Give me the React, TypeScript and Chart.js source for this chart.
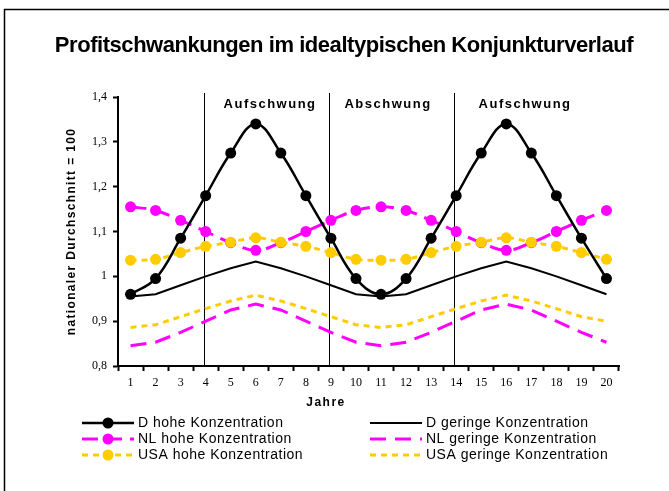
import { useEffect, useRef } from 'react';
import { Chart, registerables } from 'chart.js';

Chart.register(...registerables);

const W = 669;
const H = 491;

const titleText = 'Profitschwankungen im idealtypischen Konjunkturverlauf';
const xTitle = 'Jahre';
const yTitle = 'nationaler Durchschnitt = 100';

const years = ['1', '2', '3', '4', '5', '6', '7', '8', '9', '10', '11', '12', '13', '14', '15', '16', '17', '18', '19', '20'];

const dHigh = [0.96, 0.995, 1.085, 1.18, 1.275, 1.34, 1.275, 1.18, 1.085, 0.995, 0.96, 0.995, 1.085, 1.18, 1.275, 1.34, 1.275, 1.18, 1.085, 0.995];
const dLow = [0.955, 0.96, 0.98, 1.0, 1.018, 1.033, 1.018, 1.0, 0.98, 0.96, 0.955, 0.96, 0.98, 1.0, 1.018, 1.033, 1.018, 1.0, 0.98, 0.96];
const nlHigh = [1.155, 1.147, 1.125, 1.1, 1.075, 1.058, 1.075, 1.1, 1.125, 1.147, 1.155, 1.147, 1.125, 1.1, 1.075, 1.058, 1.075, 1.1, 1.125, 1.147];
const nlLow = [0.845, 0.853, 0.875, 0.9, 0.925, 0.938, 0.925, 0.9, 0.875, 0.853, 0.845, 0.853, 0.875, 0.9, 0.925, 0.938, 0.925, 0.9, 0.875, 0.853];
const usaHigh = [1.036, 1.038, 1.053, 1.067, 1.076, 1.086, 1.076, 1.067, 1.053, 1.038, 1.036, 1.038, 1.053, 1.067, 1.076, 1.086, 1.076, 1.067, 1.053, 1.038];
const usaLow = [0.886, 0.892, 0.91, 0.928, 0.945, 0.958, 0.945, 0.928, 0.91, 0.892, 0.886, 0.892, 0.91, 0.928, 0.945, 0.958, 0.945, 0.928, 0.91, 0.9];

// phase boundaries (year indices) and phase labels
const phaseBoundaries = ['4', '9', '14'];
const phaseLabels = ['Aufschwung', 'Abschwung', 'Aufschwung'];
const phaseLabelYears = [6.57, 11.28, 16.75];

const yTicks = [0.8, 0.9, 1.0, 1.1, 1.2, 1.3, 1.4];

const BLACK = '#000000';
const MAGENTA = '#FF00FF';
const ORANGE = '#FFCC00';

const SANS = '"Liberation Sans", Arial, sans-serif';
const SERIF = '"Liberation Serif", "Times New Roman", serif';

type Item = { label: string; color: string; dash: number[]; width: number; marker: boolean };

const legendLeft: Item[] = [
  { label: 'D hohe Konzentration', color: BLACK, dash: [], width: 2.5, marker: true },
  { label: 'NL hohe Konzentration', color: MAGENTA, dash: [16, 8], width: 3, marker: true },
  { label: 'USA hohe Konzentration', color: ORANGE, dash: [6, 5], width: 3, marker: true },
];
const legendRight: Item[] = [
  { label: 'D geringe Konzentration', color: BLACK, dash: [], width: 2, marker: false },
  { label: 'NL geringe Konzentration', color: MAGENTA, dash: [16, 9], width: 3, marker: false },
  { label: 'USA geringe Konzentration', color: ORANGE, dash: [6, 5], width: 3, marker: false },
];

const decor = {
  id: 'decor',
  beforeDraw(chart: any) {
    const ctx = chart.ctx as CanvasRenderingContext2D;
    ctx.save();
    ctx.fillStyle = '#fff';
    ctx.fillRect(0, 0, W, H);
    // frame
    ctx.strokeStyle = '#000';
    ctx.lineWidth = 1.5;
    ctx.beginPath();
    ctx.moveTo(4.5, H);
    ctx.lineTo(4.5, 9.5);
    ctx.lineTo(W, 9.5);
    ctx.stroke();
    ctx.restore();
  },
  beforeDatasetsDraw(chart: any) {
    const ctx = chart.ctx as CanvasRenderingContext2D;
    const xs = chart.scales.x;
    const area = chart.chartArea;
    ctx.save();
    ctx.strokeStyle = '#000';
    ctx.lineWidth = 1;
    phaseBoundaries.forEach((b) => {
      const x = Math.round(xs.getPixelForValue(years.indexOf(b) - 0.08)) + 0.5;
      ctx.beginPath();
      ctx.moveTo(x, area.top - 4);
      ctx.lineTo(x, area.bottom);
      ctx.stroke();
    });
    ctx.restore();
  },
  afterDraw(chart: any) {
    const ctx = chart.ctx as CanvasRenderingContext2D;
    const xs = chart.scales.x;
    const area = chart.chartArea;
    ctx.save();
    ctx.fillStyle = '#000';
    // title
    ctx.font = `bold 22px ${SANS}`;
    (ctx as any).letterSpacing = '-0.45px';
    ctx.textAlign = 'center';
    ctx.textBaseline = 'alphabetic';
    ctx.fillText(titleText, 344, 51.5);
    ctx.textBaseline = 'middle';
    // phase labels
    ctx.font = `bold 13px ${SANS}`;
    (ctx as any).letterSpacing = '1.5px';
    phaseLabels.forEach((t, i) => {
      const x = xs.getPixelForValue(phaseLabelYears[i] - 1);
      ctx.fillText(t, x, area.top + 7);
    });
    // x title
    ctx.font = `bold 12px ${SANS}`;
    (ctx as any).letterSpacing = '1.5px';
    ctx.fillText(xTitle, 326, 403);
    // y title
    (ctx as any).letterSpacing = '1.35px';
    ctx.save();
    ctx.translate(72, (area.top + area.bottom) / 2);
    ctx.rotate(-Math.PI / 2);
    ctx.fillText(yTitle, 0, 0);
    ctx.restore();
    // legend
    (ctx as any).letterSpacing = '0.5px';
    ctx.font = `14px ${SANS}`;
    ctx.textAlign = 'left';
    const rows = [423, 439, 455];
    const drawItem = (it: Item, x0: number, x1: number, tx: number, y: number) => {
      ctx.save();
      ctx.strokeStyle = it.color;
      ctx.lineWidth = it.width;
      ctx.setLineDash(it.dash);
      ctx.beginPath();
      ctx.moveTo(x0, y);
      ctx.lineTo(x1, y);
      ctx.stroke();
      if (it.marker) {
        ctx.setLineDash([]);
        ctx.fillStyle = it.color;
        ctx.beginPath();
        ctx.arc((x0 + x1) / 2, y, 5.5, 0, Math.PI * 2);
        ctx.fill();
      }
      ctx.restore();
      ctx.fillStyle = '#000';
      ctx.fillText(it.label, tx, y);
    };
    legendLeft.forEach((it, i) => drawItem(it, 82, 134, 138, rows[i]));
    legendRight.forEach((it, i) => drawItem(it, 370, 422, 426, rows[i]));
    ctx.restore();
  },
};

export default function App() {
  const ref = useRef<HTMLCanvasElement>(null);
  useEffect(() => {
    const mk = (label: string, data: number[], color: string, width: number, dash: number[], marker: boolean, tension: number, order: number) => ({
      label,
      data,
      borderColor: color,
      backgroundColor: color,
      borderWidth: width,
      borderDash: dash,
      pointRadius: marker ? 5.5 : 0,
      pointBackgroundColor: color,
      pointBorderWidth: 0,
      pointHoverRadius: marker ? 5.5 : 0,
      tension,
      fill: false,
      order,
    });
    const chart = new Chart(ref.current as HTMLCanvasElement, {
      type: 'line',
      data: {
        labels: years,
        datasets: [
          mk('D hohe Konzentration', dHigh, BLACK, 2.5, [], true, 0.4, 0),
          mk('USA hohe Konzentration', usaHigh, ORANGE, 3, [6, 5], true, 0.4, 1),
          mk('NL hohe Konzentration', nlHigh, MAGENTA, 3, [16, 8], true, 0.4, 2),
          mk('D geringe Konzentration', dLow, BLACK, 2, [], false, 0, 3),
          mk('NL geringe Konzentration', nlLow, MAGENTA, 3, [16, 9], false, 0, 4),
          mk('USA geringe Konzentration', usaLow, ORANGE, 3, [6, 5], false, 0, 5),
        ] as any,
      },
      options: {
        animation: false,
        responsive: false,
        maintainAspectRatio: false,
        events: [],
        layout: { padding: { left: 0, right: 50, top: 97, bottom: 0 } },
        plugins: {
          legend: { display: false },
          tooltip: { enabled: false },
          title: { display: false },
        },
        scales: {
          x: {
            type: 'category',
            offset: true,
            grid: { offset: true, drawOnChartArea: false, drawTicks: true, tickLength: 5, tickWidth: 2, tickColor: '#000' },
            border: { display: true, color: '#000', width: 2 },
            ticks: { color: '#000', font: { family: SERIF, size: 12 }, padding: 5, maxRotation: 0, autoSkip: false },
            afterFit: (s: any) => { s.height = 125; },
          },
          y: {
            min: yTicks[0],
            max: yTicks[yTicks.length - 1],
            afterBuildTicks: (s: any) => { s.ticks = yTicks.map((v) => ({ value: v })); },
            grid: { drawOnChartArea: false, drawTicks: true, tickLength: 5, tickWidth: 2, tickColor: '#000' },
            border: { display: true, color: '#000', width: 2 },
            ticks: {
              color: '#000',
              font: { family: SERIF, size: 12 },
              padding: 6,
              callback: (v: any) => String(Math.round(Number(v) * 10) / 10).replace('.', ','),
            },
            afterFit: (s: any) => { s.width = 118; },
          },
        },
      },
      plugins: [decor],
    } as any);
    return () => chart.destroy();
  }, []);
  return (
    <div style={{ position: 'absolute', left: 0, top: 0, width: W, height: H, background: '#fff' }}>
      <canvas ref={ref} width={W} height={H} style={{ display: 'block', width: W, height: H }} />
    </div>
  );
}
